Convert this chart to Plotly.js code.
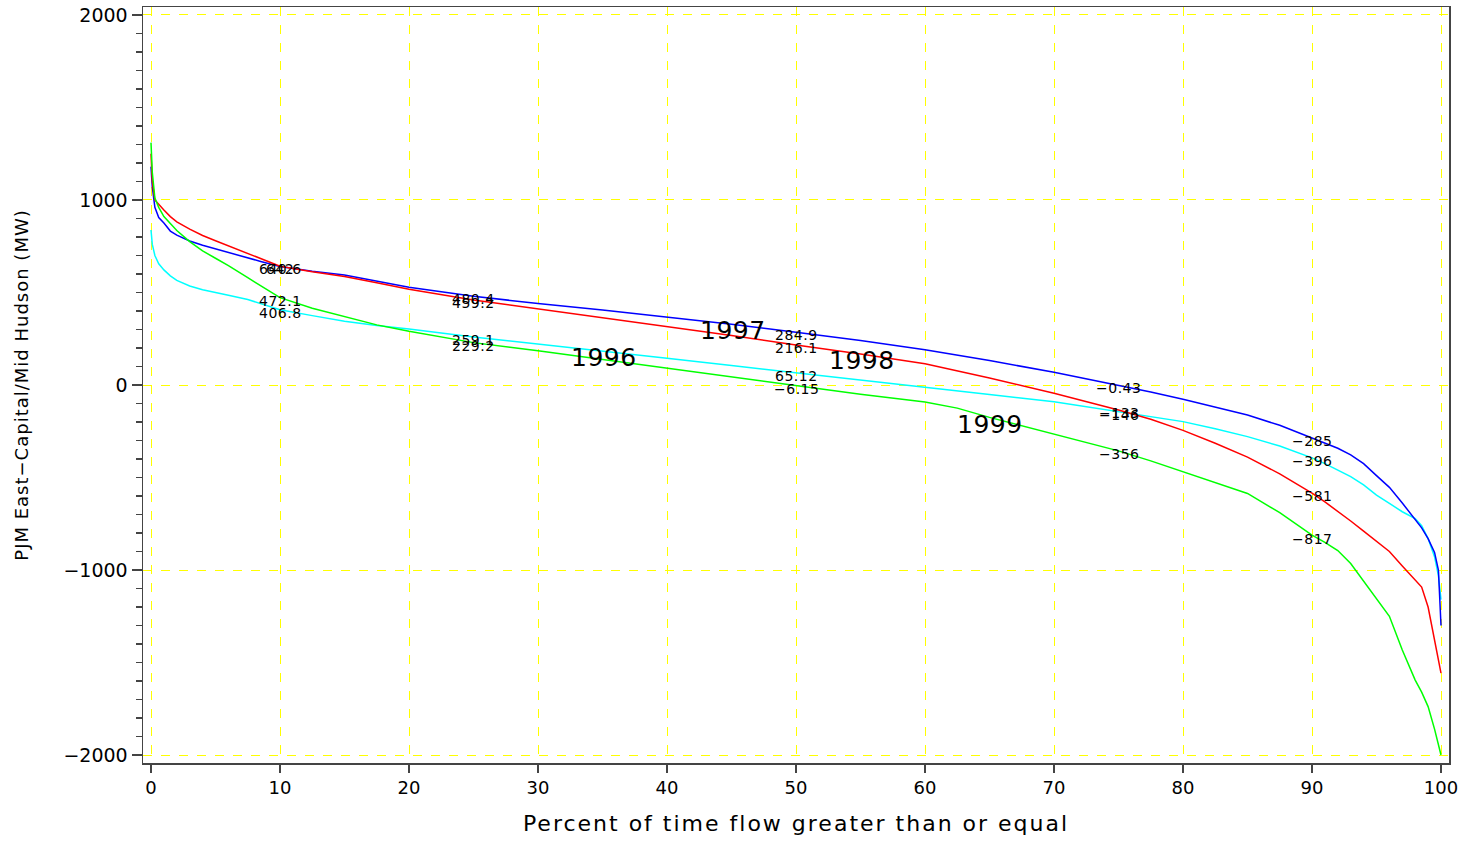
<!DOCTYPE html>
<html>
<head>
<meta charset="utf-8">
<script src="https://cdn.plot.ly/plotly-3.0.1.min.js"></script>
<style>
html,body{margin:0;padding:0;background:#fff;}
#chart{width:1480px;height:841px;}
.xtitle{letter-spacing:2px;}
.ytitle{letter-spacing:1px;}
.annotation-text{letter-spacing:0.5px;}
</style>
</head>
<body>
<div id="chart"></div>
<script>
// Percent of time flow greater than or equal
const pct = [0, 0.1, 0.3, 0.6, 1, 1.5, 2, 3, 4, 5, 6, 7.5, 8.5, 10, 12.5, 15, 17.5, 20, 25, 30, 35, 40, 45, 50, 55, 60, 62.5, 65, 70, 75, 77.5, 80, 82.5, 85, 87.5, 90, 91, 92, 93, 94, 95, 96, 97, 98, 98.5, 99, 99.5, 99.8, 100];

const flow1996 = [838, 760, 700, 655, 622, 590, 565, 535, 515, 498, 485, 462, 440, 407, 375, 345, 322, 303, 259, 222, 183, 145, 105, 65, 25, -12, -32, -52, -90, -146, -170, -198, -236, -279, -330, -394, -425, -458, -495, -540, -595, -640, -685, -722, -760, -830, -928, -1030, -1160];
const flow1997 = [1180, 1070, 960, 905, 875, 832, 810, 778, 755, 735, 715, 688, 668, 641, 615, 595, 562, 528, 480, 440, 405, 368, 328, 285, 240, 190, 162, 132, 69, 0, -38, -77, -118, -162, -218, -288, -312, -342, -378, -425, -490, -553, -638, -725, -772, -830, -905, -1000, -1300];
const flow1998 = [1250, 1100, 1000, 975, 946, 910, 882, 842, 808, 780, 752, 710, 680, 642, 612, 586, 553, 518, 459, 412, 365, 318, 268, 216, 168, 115, 78, 38, -45, -135, -185, -245, -315, -390, -480, -584, -632, -682, -735, -790, -845, -900, -978, -1052, -1092, -1200, -1370, -1470, -1557];
const flow1999 = [1310, 1150, 1010, 960, 910, 870, 835, 775, 725, 685, 645, 580, 535, 472, 415, 369, 325, 290, 229, 185, 138, 92, 45, -6, -50, -92, -125, -175, -267, -356, -410, -468, -525, -586, -690, -811, -850, -895, -965, -1060, -1150, -1250, -1432, -1595, -1660, -1738, -1860, -1940, -2000];

// Value labels at selected percentiles
const labelPct = [10, 25, 50, 75, 90];
const label1996 = [406.8, 259.1, 65.12, -146, -396];
const label1997 = [640.6, 480.4, 284.9, -0.43, -285];
const label1998 = [642, 459.2, 216.1, -133, -581];
const label1999 = [472.1, 229.2, -6.15, -356, -817];

const years = ['1996', '1997', '1998', '1999'];
const yearX = [35.1, 45.1, 55.1, 65.0];
const yearY = [151, 297, 130, -211];

const FONT = 'DejaVu Sans, sans-serif';
const colors = ['#00ffff', '#0000ff', '#ff0000', '#00ff00'];
const series = [flow1996, flow1997, flow1998, flow1999];
const labels = [label1996, label1997, label1998, label1999];

const fmt = v => String(v).replace('-', '\u2212');

const traces = series.map((s, i) => ({
  x: pct, y: s, type: 'scatter', mode: 'lines',
  line: {color: colors[i], width: 1.5},
  hoverinfo: 'skip', showlegend: false
}));

const annotations = [];
labels.forEach(l => {
  l.forEach((v, j) => {
    annotations.push({
      x: labelPct[j], y: v, xref: 'x', yref: 'y', text: fmt(v),
      showarrow: false, xanchor: 'center', yanchor: 'middle', yshift: -3,
      font: {family: FONT, size: 14, color: '#000'}
    });
  });
});
years.forEach((t, i) => {
  annotations.push({
    x: yearX[i], y: yearY[i], xref: 'x', yref: 'y', text: t,
    showarrow: false, xanchor: 'center', yanchor: 'middle',
    font: {family: FONT, size: 25, color: '#000'}
  });
});

const layout = {
  width: 1480, height: 841,
  margin: {l: 143, r: 31, t: 7, b: 78},
  paper_bgcolor: '#fff', plot_bgcolor: '#fff',
  font: {family: FONT, color: '#000'},
  showlegend: false,
  annotations: annotations,
  xaxis: {
    range: [-0.62, 100.62], tickmode: 'linear', tick0: 0, dtick: 10,
    ticks: 'outside', ticklen: 8, tickwidth: 1.5, tickcolor: '#444',
    showline: true, linecolor: '#444', linewidth: 1.5, mirror: true,
    showgrid: true, gridcolor: '#ffff00', griddash: 'dash', gridwidth: 1,
    zeroline: false,
    tickfont: {family: FONT, size: 18, color: '#000'},
    title: {text: 'Percent of time flow greater than or equal', font: {family: FONT, size: 22, color: '#000'}, standoff: 18}
  },
  yaxis: {
    range: [-2043, 2043], tickmode: 'linear', tick0: 0, dtick: 1000,
    ticks: 'outside', ticklen: 10, tickwidth: 1.5, tickcolor: '#444',
    minor: {dtick: 100, ticks: 'outside', ticklen: 6, tickcolor: '#444', tickwidth: 1.2, showgrid: false},
    showline: true, linecolor: '#444', linewidth: 1.5, mirror: true,
    showgrid: true, gridcolor: '#ffff00', griddash: 'dash', gridwidth: 1,
    zeroline: false,
    tickfont: {family: FONT, size: 19, color: '#000'},
    tickformat: 'd',
    title: {text: 'PJM East\u2212Capital/Mid Hudson (MW)', font: {family: FONT, size: 18, color: '#000'}, standoff: 30}
  }
};

Plotly.newPlot('chart', traces, layout, {displayModeBar: false, staticPlot: true});
</script>
</body>
</html>
